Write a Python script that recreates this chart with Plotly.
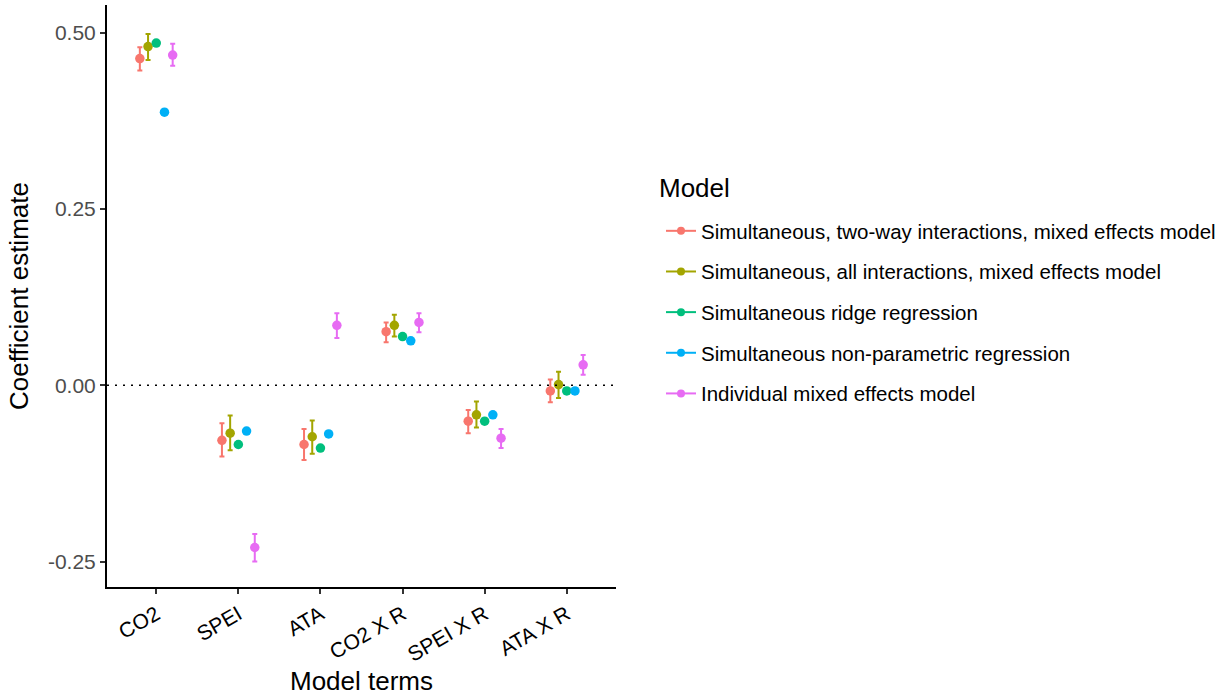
import numpy as np
import plotly.graph_objects as go

terms = ["CO2", "SPEI", "ATA", "CO2 X R", "SPEI X R", "ATA X R"]

models = [
    "Simultaneous, two-way interactions, mixed effects model",
    "Simultaneous, all interactions, mixed effects model",
    "Simultaneous ridge regression",
    "Simultaneous non-parametric regression",
    "Individual mixed effects model",
]
colors = ["#F8766D", "#A3A500", "#00BF7D", "#00B0F6", "#E76BF3"]

est_twoway = [0.463, -0.078, -0.084, 0.076, -0.051, -0.008]
lo_twoway = [0.446, -0.101, -0.106, 0.061, -0.068, -0.024]
hi_twoway = [0.479, -0.054, -0.062, 0.089, -0.035, 0.008]

est_all = [0.480, -0.068, -0.073, 0.085, -0.042, 0.001]
lo_all = [0.461, -0.092, -0.097, 0.069, -0.060, -0.018]
hi_all = [0.498, -0.043, -0.050, 0.100, -0.023, 0.019]

est_ridge = [0.485, -0.084, -0.089, 0.069, -0.051, -0.008]

est_np = [0.387, -0.065, -0.069, 0.063, -0.042, -0.008]

est_ind = [0.468, -0.230, 0.085, 0.089, -0.075, 0.029]
lo_ind = [0.453, -0.250, 0.067, 0.075, -0.089, 0.015]
hi_ind = [0.484, -0.211, 0.102, 0.102, -0.062, 0.043]

y_ticks = [-0.25, 0.0, 0.25, 0.50]
y_ticklabels = ["-0.25", "0.00", "0.25", "0.50"]

series = [
    (est_twoway, lo_twoway, hi_twoway),
    (est_all, lo_all, hi_all),
    (est_ridge, None, None),
    (est_np, None, None),
    (est_ind, lo_ind, hi_ind),
]

FONT = "Liberation Sans, Arial, sans-serif"
dodge = 0.1
base = np.arange(len(terms))

fig = go.Figure()
for k, (name, col, (est, lo, hi)) in enumerate(zip(models, colors, series)):
    est_a = np.array(est)
    x = base + (k - 2) * dodge
    err = None
    if lo is not None:
        err = dict(
            type="data",
            symmetric=False,
            array=np.array(hi) - est_a,
            arrayminus=est_a - np.array(lo),
            color=col,
            thickness=2,
            width=2.5,
        )
    fig.add_trace(go.Scatter(
        x=x, y=est_a, mode="markers",
        marker=dict(color=col, size=9.5),
        error_y=err, showlegend=False, name=name,
        hoverinfo="x+y+name",
    ))

for k, (name, col) in enumerate(zip(models, colors)):
    fig.add_trace(go.Scatter(
        x=[None], y=[None], mode="lines+markers",
        line=dict(color=col, width=2),
        marker=dict(color=col, size=8),
        name=name, legendgroup=name, showlegend=True,
    ))

fig.add_shape(type="line", xref="paper", yref="y", x0=0, x1=1, y0=0, y1=0,
              line=dict(color="black", width=1.6, dash="2px,6px"))

# plot area spans x 107..616 px, y 5..587 px
fig.add_annotation(
    text="Model", xref="paper", yref="paper",
    x=(657 - 107) / 509, y=(587 - 188) / 582, xanchor="left", yanchor="middle",
    showarrow=False, font=dict(size=26, color="black", family=FONT),
)

fig.update_layout(
    width=1232, height=696,
    margin=dict(l=107, r=616, t=5, b=109),
    paper_bgcolor="white", plot_bgcolor="white",
    font=dict(family=FONT, color="black"),
    legend=dict(
        font=dict(size=20.5, color="black"),
        xref="container", yref="container",
        x=661 / 1232, y=1 - 211 / 696,
        xanchor="left", yanchor="top",
        tracegroupgap=11, itemwidth=30,
        bgcolor="rgba(0,0,0,0)",
    ),
    xaxis=dict(
        range=[-0.6, len(terms) - 1 + 0.6],
        tickmode="array", tickvals=base, ticktext=terms,
        tickangle=-30, tickfont=dict(size=21, color="black"),
        showline=True, linecolor="black", linewidth=2,
        ticks="outside", ticklen=5, tickwidth=1.5, tickcolor="#333",
        showgrid=False, zeroline=False,
        title=dict(text="Model terms", font=dict(size=26, color="black"), standoff=8),
    ),
    yaxis=dict(
        range=[-0.286, 0.539],
        tickmode="array", tickvals=y_ticks, ticktext=y_ticklabels,
        tickfont=dict(size=21, color="#4d4d4d"),
        showline=True, linecolor="black", linewidth=2,
        ticks="outside", ticklen=5, tickwidth=1.5, tickcolor="#333",
        showgrid=False, zeroline=False,
        title=dict(text="Coefficient estimate", font=dict(size=26, color="black"), standoff=12),
    ),
)

fig.write_html("out.html")
